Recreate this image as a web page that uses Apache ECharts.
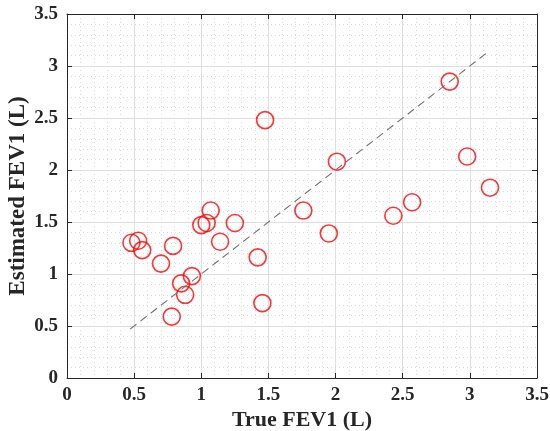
<!DOCTYPE html>
<html><head><meta charset="utf-8">
<script src="https://cdn.jsdelivr.net/npm/echarts@6/dist/echarts.min.js"></script>
<style>html,body{margin:0;padding:0;background:#fff}#c{width:550px;height:431px}</style>
</head><body><div id="c"></div>
<script>
const trueFEV1 = [0.48, 0.53, 0.56, 0.70, 0.79, 0.78, 0.93, 0.85, 0.88, 1.00, 1.04, 1.07, 1.14, 1.25, 1.42, 1.455, 1.475, 1.76, 1.95, 2.01, 2.43, 2.57, 2.85, 2.98, 3.15];
const estFEV1  = [1.30, 1.32, 1.23, 1.10, 1.27, 0.59, 0.98, 0.91, 0.80, 1.47, 1.49, 1.61, 1.31, 1.49, 1.16, 0.72, 2.48, 1.61, 1.39, 2.08, 1.56, 1.69, 2.85, 2.13, 1.83];
const refLineX = [0.47, 3.14];
const axisTicks = [0, 0.5, 1, 1.5, 2, 2.5, 3, 3.5];
const xTitle = 'True FEV1 (L)';
const yTitle = 'Estimated FEV1 (L)';

const font = 'Liberation Serif';
const fmt = v => String(v);
function mkAxis(extra) {
  return Object.assign({
    type: 'value', min: 0, max: 3.5, interval: 0.5,
    axisLine: { show: true, onZero: false, lineStyle: { color: '#262626', width: 1 } },
    axisTick: { show: true, inside: true, length: 5, lineStyle: { color: '#262626' } },
    minorTick: { show: false },
    splitLine: { show: false },
    minorSplitLine: { show: false }
  }, extra);
}
const chart = echarts.init(document.getElementById('c'), null, { renderer: 'canvas' });
chart.setOption({
  animation: false,
  grid: { left: 67, right: 13, top: 14, bottom: 53, containLabel: false, outerBoundsMode: 'none' },
  xAxis: [
    mkAxis({
      position: 'bottom',
      name: xTitle, nameLocation: 'middle', nameGap: 31, nameMoveOverlap: false,
      nameTextStyle: { fontFamily: font, fontWeight: 'bold', fontSize: 22, color: '#262626' },
      axisLabel: { fontFamily: font, fontWeight: 'bold', fontSize: 19, color: '#262626', margin: 8, formatter: fmt },
      splitLine: { show: true, lineStyle: { color: '#dedede', width: 1 } },
      minorTick: { show: false, splitNumber: 5 },
      minorSplitLine: { show: true, lineStyle: { color: '#dadada', type: [1, 3], width: 1 } }
    }),
    mkAxis({ position: 'top', axisLabel: { show: false } })
  ],
  yAxis: [
    mkAxis({
      position: 'left',
      name: yTitle, nameLocation: 'middle', nameGap: 37, nameMoveOverlap: false,
      nameTextStyle: { fontFamily: font, fontWeight: 'bold', fontSize: 23, color: '#262626' },
      axisLabel: { fontFamily: font, fontWeight: 'bold', fontSize: 19, color: '#262626', margin: 9, formatter: fmt },
      splitLine: { show: true, lineStyle: { color: '#dedede', width: 1 } },
      minorTick: { show: false, splitNumber: 5 },
      minorSplitLine: { show: true, lineStyle: { color: '#dadada', type: [1, 3], width: 1 } }
    }),
    mkAxis({ position: 'right', axisLabel: { show: false } })
  ],
  series: [
    {
      type: 'line', xAxisIndex: 0, yAxisIndex: 0,
      data: refLineX.map(v => [v, v]),
      symbol: 'none', silent: true,
      lineStyle: { color: '#727272', width: 1.1, type: [8, 5] }
    },
    {
      type: 'scatter', xAxisIndex: 0, yAxisIndex: 0,
      data: trueFEV1.map((x, i) => [x, estFEV1[i]]),
      symbol: 'circle', symbolSize: 17,
      itemStyle: { color: 'rgba(0,0,0,0)', borderColor: '#ff0000', borderWidth: 1.6 }
    }
  ]
});
</script></body></html>
